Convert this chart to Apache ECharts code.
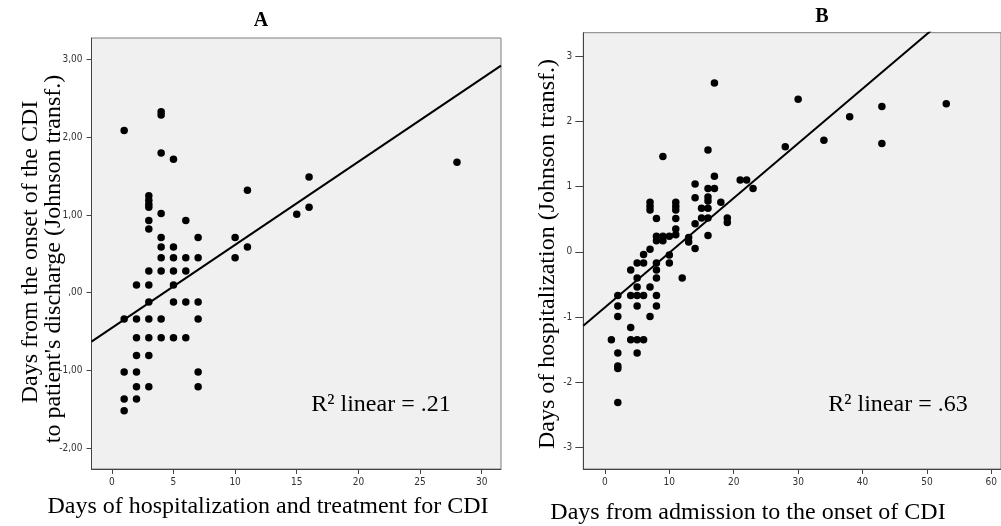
<!DOCTYPE html>
<html><head><meta charset="utf-8">
<script src="https://cdn.jsdelivr.net/npm/echarts@6/dist/echarts.min.js"></script>
<style>html,body{margin:0;padding:0;background:#fff}#c{width:1001px;height:526px}</style>
</head><body><div id="c"></div>
<script>
// Panel A: days of hospitalization & treatment vs Johnson-transformed days to discharge
const aX = [1,4,4,4,5,11,3,3,3,3,4,3,3,6,4,7,10,4,5,11,4,5,6,7,10,3,4,5,6,2,3,5,3,5,6,7,1,2,3,4,7,2,3,4,5,6,2,3,1,2,7,2,3,7,1,2,1,15,16,16,28];
const aY = [2.09,2.33,2.29,1.80,1.72,1.32,1.25,1.19,1.14,1.10,1.02,0.93,0.82,0.93,0.71,0.71,0.71,0.59,0.59,0.59,0.45,0.45,0.45,0.45,0.45,0.28,0.28,0.28,0.28,0.10,0.10,0.10,-0.12,-0.12,-0.12,-0.12,-0.34,-0.34,-0.34,-0.34,-0.34,-0.58,-0.58,-0.58,-0.58,-0.58,-0.81,-0.81,-1.02,-1.02,-1.02,-1.21,-1.21,-1.21,-1.37,-1.37,-1.52,1.01,1.10,1.49,1.68];
// Panel B: days from admission to onset vs Johnson-transformed days of hospitalization
const bX = [1,2,2,2,2,2,2,2,4,4,4,4,5,5,5,5,5,5,5,6,6,6,6,7,7,7,7,7,7,8,8,8,8,8,8,8,8,9,9,9,10,10,10,11,11,11,11,11,11,12,13,13,14,14,14,14,15,15,16,16,16,16,16,16,16,17,17,17,18,19,19,21,22,23,28,30,34,38,43,43,53];
const bY = [-1.35,-0.67,-0.83,-0.99,-1.55,-1.75,-1.79,-2.31,-0.28,-0.67,-1.16,-1.35,-0.17,-0.40,-0.54,-0.67,-0.83,-1.35,-1.55,-0.04,-0.17,-0.67,-1.35,0.76,0.70,0.64,0.04,-0.54,-0.99,0.51,0.24,0.17,-0.17,-0.28,-0.40,-0.67,-0.83,1.46,0.24,0.17,0.24,-0.05,-0.17,0.76,0.70,0.64,0.51,0.35,0.26,-0.40,0.22,0.15,1.04,0.83,0.43,0.05,0.67,0.52,1.56,0.97,0.84,0.78,0.67,0.52,0.25,2.59,1.16,0.97,0.76,0.52,0.45,1.10,1.10,0.97,1.61,2.34,1.71,2.07,2.23,1.66,2.27];
// Linear fits: [intercept, slope]
const fitA = [-0.453, 0.107];
const fitB = [-0.851, 0.0838];
// Tick labels
const xTicksA = [0,5,10,15,20,25,30];
const yTicksA = [-2,-1,0,1,2,3];
const xTicksB = [0,10,20,30,40,50,60];
const yTicksB = [-3,-2,-1,0,1,2,3];
// Axis extents
const extA = [-1.65, 31.57, -2.27, 3.28];
const extB = [-3.36, 61.5, -3.33, 3.36];

const pts = (xs, ys) => xs.map((x, i) => [x, ys[i]]);
const fitLine = (f, e) => [[e[0], f[0] + f[1]*e[0]], [e[1], f[0] + f[1]*e[1]]];
const fmtA = v => (v < 0 ? '-' : '') + (v === 0 ? '' : Math.abs(v)) + ',00';

const serif = 'Liberation Serif';
const tickFont = {fontFamily: 'Liberation Sans Narrow, DejaVu Sans Condensed, Liberation Sans', fontSize: 10, color: '#333'};

function xAxis(grid, ext, ticks, fmt) {
  return {type: 'value', gridIndex: grid, min: ext[0], max: ext[1],
    axisLine: {show: true, onZero: false, lineStyle: {color: '#444', width: 1}},
    axisTick: {show: true, length: 5, customValues: ticks, lineStyle: {color: '#444'}},
    axisLabel: Object.assign({margin: 8, customValues: ticks, formatter: fmt}, tickFont),
    splitLine: {show: false}};
}
function yAxis(grid, ext, ticks, fmt, tickLen, margin) {
  return {type: 'value', gridIndex: grid, min: ext[2], max: ext[3],
    axisLine: {show: true, onZero: false, lineStyle: {color: '#444', width: 1}},
    axisTick: {show: true, length: tickLen, customValues: ticks, lineStyle: {color: '#444'}},
    axisLabel: Object.assign({margin: margin, customValues: ticks, formatter: fmt}, tickFont),
    splitLine: {show: false}};
}

const dot = {color: '#000', opacity: 1};
const chart = echarts.init(document.getElementById('c'), null, {renderer: 'canvas'});
chart.setOption({
  animation: false,
  backgroundColor: '#fff',
  grid: [
    {left: 91.5, top: 38, width: 409.5, height: 431, show: true, backgroundColor: '#f0f0f0', borderColor: '#7f7f7f', borderWidth: 1},
    {left: 583.3, top: 32.7, width: 417.7, height: 436.3, show: true, backgroundColor: '#f0f0f0', borderColor: '#7f7f7f', borderWidth: 1}
  ],
  xAxis: [
    xAxis(0, extA, xTicksA, v => String(v)),
    xAxis(1, extB, xTicksB, v => String(v))
  ],
  yAxis: [
    yAxis(0, extA, yTicksA, fmtA, 5, 9),
    yAxis(1, extB, yTicksB, v => String(v), 8, 11)
  ],
  series: [
    {type: 'scatter', xAxisIndex: 0, yAxisIndex: 0, data: pts(aX, aY), symbol: 'circle', symbolSize: 7.5, itemStyle: dot},
    {type: 'line', xAxisIndex: 0, yAxisIndex: 0, data: fitLine(fitA, extA), symbol: 'none', clip: true, lineStyle: {color: '#000', width: 2}},
    {type: 'scatter', xAxisIndex: 1, yAxisIndex: 1, data: pts(bX, bY), symbol: 'circle', symbolSize: 7.5, itemStyle: dot},
    {type: 'line', xAxisIndex: 1, yAxisIndex: 1, data: fitLine(fitB, extB), symbol: 'none', clip: true, lineStyle: {color: '#000', width: 2}}
  ],
  graphic: [
    {type: 'text', x: 261, y: 21, style: {text: 'A', font: 'bold 20px ' + serif, fill: '#000', textAlign: 'center', textVerticalAlign: 'middle'}},
    {type: 'text', x: 822, y: 17, style: {text: 'B', font: 'bold 20px ' + serif, fill: '#000', textAlign: 'center', textVerticalAlign: 'middle'}},
    {type: 'text', x: 268, y: 507, style: {text: 'Days of hospitalization and treatment for CDI', font: '24px ' + serif, fill: '#000', textAlign: 'center', textVerticalAlign: 'middle'}},
    {type: 'text', x: 748, y: 513, style: {text: 'Days from admission to the onset of CDI', font: '24px ' + serif, fill: '#000', textAlign: 'center', textVerticalAlign: 'middle'}},
    {type: 'text', x: 31, y: 252, rotation: Math.PI/2, style: {text: 'Days from the onset of the CDI', font: '24px ' + serif, fill: '#000', textAlign: 'center', textVerticalAlign: 'middle'}},
    {type: 'text', x: 54, y: 259, rotation: Math.PI/2, style: {text: "to patient's discharge (Johnson transf.)", font: '24px ' + serif, fill: '#000', textAlign: 'center', textVerticalAlign: 'middle'}},
    {type: 'text', x: 548, y: 254, rotation: Math.PI/2, style: {text: 'Days of hospitalization (Johnson transf.)', font: '24px ' + serif, fill: '#000', textAlign: 'center', textVerticalAlign: 'middle'}},
    {type: 'text', x: 381, y: 405, style: {text: 'R² linear = .21', font: '24px ' + serif, fill: '#000', textAlign: 'center', textVerticalAlign: 'middle'}},
    {type: 'text', x: 898, y: 405, style: {text: 'R² linear = .63', font: '24px ' + serif, fill: '#000', textAlign: 'center', textVerticalAlign: 'middle'}}
  ]
});
</script></body></html>
